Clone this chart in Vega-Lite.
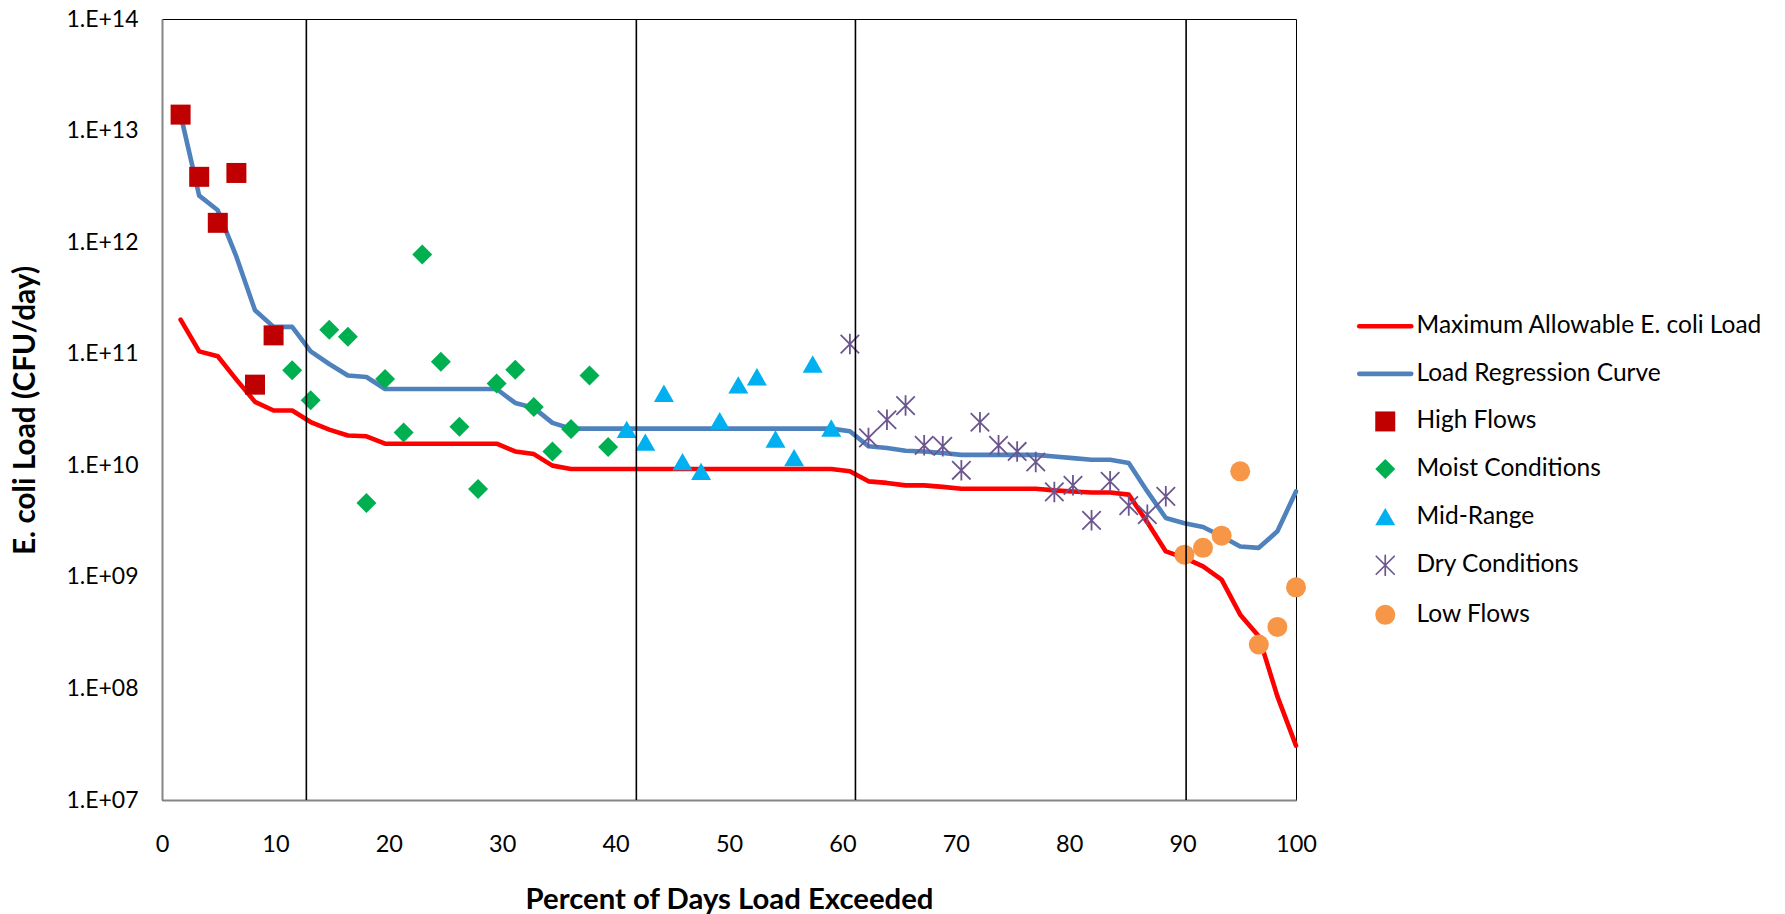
{
  "$schema": "https://vega.github.io/schema/vega-lite/v6.json",
  "width": 1134,
  "height": 781,
  "autosize": {"type": "none"},
  "padding": {"left": 162, "top": 19, "right": 489, "bottom": 114},
  "background": "white",
  "datasets": {
    "curves": [
      {"pct": 1.64, "load": 2.02e11, "series": "Maximum Allowable E. coli Load"},
      {"pct": 3.28, "load": 1.05e11, "series": "Maximum Allowable E. coli Load"},
      {"pct": 4.92, "load": 9.48e10, "series": "Maximum Allowable E. coli Load"},
      {"pct": 6.56, "load": 5.86e10, "series": "Maximum Allowable E. coli Load"},
      {"pct": 8.20, "load": 3.70e10, "series": "Maximum Allowable E. coli Load"},
      {"pct": 9.84, "load": 3.10e10, "series": "Maximum Allowable E. coli Load"},
      {"pct": 11.48, "load": 3.10e10, "series": "Maximum Allowable E. coli Load"},
      {"pct": 13.11, "load": 2.44e10, "series": "Maximum Allowable E. coli Load"},
      {"pct": 14.75, "load": 2.09e10, "series": "Maximum Allowable E. coli Load"},
      {"pct": 16.39, "load": 1.85e10, "series": "Maximum Allowable E. coli Load"},
      {"pct": 18.03, "load": 1.82e10, "series": "Maximum Allowable E. coli Load"},
      {"pct": 19.67, "load": 1.56e10, "series": "Maximum Allowable E. coli Load"},
      {"pct": 21.31, "load": 1.56e10, "series": "Maximum Allowable E. coli Load"},
      {"pct": 22.95, "load": 1.56e10, "series": "Maximum Allowable E. coli Load"},
      {"pct": 24.59, "load": 1.56e10, "series": "Maximum Allowable E. coli Load"},
      {"pct": 26.23, "load": 1.56e10, "series": "Maximum Allowable E. coli Load"},
      {"pct": 27.87, "load": 1.56e10, "series": "Maximum Allowable E. coli Load"},
      {"pct": 29.51, "load": 1.56e10, "series": "Maximum Allowable E. coli Load"},
      {"pct": 31.15, "load": 1.33e10, "series": "Maximum Allowable E. coli Load"},
      {"pct": 32.79, "load": 1.26e10, "series": "Maximum Allowable E. coli Load"},
      {"pct": 34.43, "load": 9.93e9, "series": "Maximum Allowable E. coli Load"},
      {"pct": 36.07, "load": 9.27e9, "series": "Maximum Allowable E. coli Load"},
      {"pct": 37.70, "load": 9.27e9, "series": "Maximum Allowable E. coli Load"},
      {"pct": 39.34, "load": 9.27e9, "series": "Maximum Allowable E. coli Load"},
      {"pct": 40.98, "load": 9.27e9, "series": "Maximum Allowable E. coli Load"},
      {"pct": 42.62, "load": 9.27e9, "series": "Maximum Allowable E. coli Load"},
      {"pct": 44.26, "load": 9.27e9, "series": "Maximum Allowable E. coli Load"},
      {"pct": 45.90, "load": 9.27e9, "series": "Maximum Allowable E. coli Load"},
      {"pct": 47.54, "load": 9.27e9, "series": "Maximum Allowable E. coli Load"},
      {"pct": 49.18, "load": 9.27e9, "series": "Maximum Allowable E. coli Load"},
      {"pct": 50.82, "load": 9.27e9, "series": "Maximum Allowable E. coli Load"},
      {"pct": 52.46, "load": 9.27e9, "series": "Maximum Allowable E. coli Load"},
      {"pct": 54.10, "load": 9.27e9, "series": "Maximum Allowable E. coli Load"},
      {"pct": 55.74, "load": 9.27e9, "series": "Maximum Allowable E. coli Load"},
      {"pct": 57.38, "load": 9.27e9, "series": "Maximum Allowable E. coli Load"},
      {"pct": 59.02, "load": 9.27e9, "series": "Maximum Allowable E. coli Load"},
      {"pct": 60.66, "load": 8.83e9, "series": "Maximum Allowable E. coli Load"},
      {"pct": 62.30, "load": 7.18e9, "series": "Maximum Allowable E. coli Load"},
      {"pct": 63.93, "load": 6.95e9, "series": "Maximum Allowable E. coli Load"},
      {"pct": 65.57, "load": 6.61e9, "series": "Maximum Allowable E. coli Load"},
      {"pct": 67.21, "load": 6.61e9, "series": "Maximum Allowable E. coli Load"},
      {"pct": 68.85, "load": 6.40e9, "series": "Maximum Allowable E. coli Load"},
      {"pct": 70.49, "load": 6.17e9, "series": "Maximum Allowable E. coli Load"},
      {"pct": 72.13, "load": 6.17e9, "series": "Maximum Allowable E. coli Load"},
      {"pct": 73.77, "load": 6.17e9, "series": "Maximum Allowable E. coli Load"},
      {"pct": 75.41, "load": 6.17e9, "series": "Maximum Allowable E. coli Load"},
      {"pct": 77.05, "load": 6.17e9, "series": "Maximum Allowable E. coli Load"},
      {"pct": 78.69, "load": 5.96e9, "series": "Maximum Allowable E. coli Load"},
      {"pct": 80.33, "load": 5.83e9, "series": "Maximum Allowable E. coli Load"},
      {"pct": 81.97, "load": 5.71e9, "series": "Maximum Allowable E. coli Load"},
      {"pct": 83.61, "load": 5.71e9, "series": "Maximum Allowable E. coli Load"},
      {"pct": 85.25, "load": 5.46e9, "series": "Maximum Allowable E. coli Load"},
      {"pct": 86.89, "load": 3.08e9, "series": "Maximum Allowable E. coli Load"},
      {"pct": 88.52, "load": 1.69e9, "series": "Maximum Allowable E. coli Load"},
      {"pct": 90.16, "load": 1.48e9, "series": "Maximum Allowable E. coli Load"},
      {"pct": 91.80, "load": 1.24e9, "series": "Maximum Allowable E. coli Load"},
      {"pct": 93.44, "load": 9.44e8, "series": "Maximum Allowable E. coli Load"},
      {"pct": 95.08, "load": 4.58e8, "series": "Maximum Allowable E. coli Load"},
      {"pct": 96.72, "load": 2.93e8, "series": "Maximum Allowable E. coli Load"},
      {"pct": 98.36, "load": 8.49e7, "series": "Maximum Allowable E. coli Load"},
      {"pct": 100.0, "load": 3.07e7, "series": "Maximum Allowable E. coli Load"},
      {"pct": 1.64, "load": 1.39e13, "series": "Load Regression Curve"},
      {"pct": 3.28, "load": 2.61e12, "series": "Load Regression Curve"},
      {"pct": 4.92, "load": 1.93e12, "series": "Load Regression Curve"},
      {"pct": 6.56, "load": 7.41e11, "series": "Load Regression Curve"},
      {"pct": 8.20, "load": 2.45e11, "series": "Load Regression Curve"},
      {"pct": 9.84, "load": 1.74e11, "series": "Load Regression Curve"},
      {"pct": 11.48, "load": 1.74e11, "series": "Load Regression Curve"},
      {"pct": 13.11, "load": 1.05e11, "series": "Load Regression Curve"},
      {"pct": 14.75, "load": 8.09e10, "series": "Load Regression Curve"},
      {"pct": 16.39, "load": 6.37e10, "series": "Load Regression Curve"},
      {"pct": 18.03, "load": 6.19e10, "series": "Load Regression Curve"},
      {"pct": 19.67, "load": 4.83e10, "series": "Load Regression Curve"},
      {"pct": 21.31, "load": 4.83e10, "series": "Load Regression Curve"},
      {"pct": 22.95, "load": 4.83e10, "series": "Load Regression Curve"},
      {"pct": 24.59, "load": 4.83e10, "series": "Load Regression Curve"},
      {"pct": 26.23, "load": 4.83e10, "series": "Load Regression Curve"},
      {"pct": 27.87, "load": 4.83e10, "series": "Load Regression Curve"},
      {"pct": 29.51, "load": 4.83e10, "series": "Load Regression Curve"},
      {"pct": 31.15, "load": 3.62e10, "series": "Load Regression Curve"},
      {"pct": 32.79, "load": 3.27e10, "series": "Load Regression Curve"},
      {"pct": 34.43, "load": 2.40e10, "series": "Load Regression Curve"},
      {"pct": 36.07, "load": 2.13e10, "series": "Load Regression Curve"},
      {"pct": 37.70, "load": 2.13e10, "series": "Load Regression Curve"},
      {"pct": 39.34, "load": 2.13e10, "series": "Load Regression Curve"},
      {"pct": 40.98, "load": 2.13e10, "series": "Load Regression Curve"},
      {"pct": 42.62, "load": 2.13e10, "series": "Load Regression Curve"},
      {"pct": 44.26, "load": 2.13e10, "series": "Load Regression Curve"},
      {"pct": 45.90, "load": 2.13e10, "series": "Load Regression Curve"},
      {"pct": 47.54, "load": 2.13e10, "series": "Load Regression Curve"},
      {"pct": 49.18, "load": 2.13e10, "series": "Load Regression Curve"},
      {"pct": 50.82, "load": 2.13e10, "series": "Load Regression Curve"},
      {"pct": 52.46, "load": 2.13e10, "series": "Load Regression Curve"},
      {"pct": 54.10, "load": 2.13e10, "series": "Load Regression Curve"},
      {"pct": 55.74, "load": 2.13e10, "series": "Load Regression Curve"},
      {"pct": 57.38, "load": 2.13e10, "series": "Load Regression Curve"},
      {"pct": 59.02, "load": 2.13e10, "series": "Load Regression Curve"},
      {"pct": 60.66, "load": 2.02e10, "series": "Load Regression Curve"},
      {"pct": 62.30, "load": 1.48e10, "series": "Load Regression Curve"},
      {"pct": 63.93, "load": 1.43e10, "series": "Load Regression Curve"},
      {"pct": 65.57, "load": 1.35e10, "series": "Load Regression Curve"},
      {"pct": 67.21, "load": 1.33e10, "series": "Load Regression Curve"},
      {"pct": 68.85, "load": 1.29e10, "series": "Load Regression Curve"},
      {"pct": 70.49, "load": 1.24e10, "series": "Load Regression Curve"},
      {"pct": 72.13, "load": 1.24e10, "series": "Load Regression Curve"},
      {"pct": 73.77, "load": 1.24e10, "series": "Load Regression Curve"},
      {"pct": 75.41, "load": 1.24e10, "series": "Load Regression Curve"},
      {"pct": 77.05, "load": 1.24e10, "series": "Load Regression Curve"},
      {"pct": 78.69, "load": 1.20e10, "series": "Load Regression Curve"},
      {"pct": 80.33, "load": 1.16e10, "series": "Load Regression Curve"},
      {"pct": 81.97, "load": 1.12e10, "series": "Load Regression Curve"},
      {"pct": 83.61, "load": 1.12e10, "series": "Load Regression Curve"},
      {"pct": 85.25, "load": 1.05e10, "series": "Load Regression Curve"},
      {"pct": 86.89, "load": 5.83e9, "series": "Load Regression Curve"},
      {"pct": 88.52, "load": 3.37e9, "series": "Load Regression Curve"},
      {"pct": 90.16, "load": 3.02e9, "series": "Load Regression Curve"},
      {"pct": 91.80, "load": 2.80e9, "series": "Load Regression Curve"},
      {"pct": 93.44, "load": 2.31e9, "series": "Load Regression Curve"},
      {"pct": 95.08, "load": 1.87e9, "series": "Load Regression Curve"},
      {"pct": 96.72, "load": 1.82e9, "series": "Load Regression Curve"},
      {"pct": 98.36, "load": 2.56e9, "series": "Load Regression Curve"},
      {"pct": 100.0, "load": 5.83e9, "series": "Load Regression Curve"}
    ],
    "samples": [
      {"pct": 1.64, "load": 1.39e13, "series": "High Flows"},
      {"pct": 3.28, "load": 3.85e12, "series": "High Flows"},
      {"pct": 4.92, "load": 1.49e12, "series": "High Flows"},
      {"pct": 6.56, "load": 4.17e12, "series": "High Flows"},
      {"pct": 8.20, "load": 5.28e10, "series": "High Flows"},
      {"pct": 9.84, "load": 1.46e11, "series": "High Flows"},
      {"pct": 11.48, "load": 7.10e10, "series": "Moist Conditions"},
      {"pct": 13.11, "load": 3.82e10, "series": "Moist Conditions"},
      {"pct": 14.75, "load": 1.64e11, "series": "Moist Conditions"},
      {"pct": 16.39, "load": 1.42e11, "series": "Moist Conditions"},
      {"pct": 18.03, "load": 4.59e9, "series": "Moist Conditions"},
      {"pct": 19.67, "load": 5.94e10, "series": "Moist Conditions"},
      {"pct": 21.31, "load": 1.97e10, "series": "Moist Conditions"},
      {"pct": 22.95, "load": 7.73e11, "series": "Moist Conditions"},
      {"pct": 24.59, "load": 8.49e10, "series": "Moist Conditions"},
      {"pct": 26.23, "load": 2.21e10, "series": "Moist Conditions"},
      {"pct": 27.87, "load": 6.14e9, "series": "Moist Conditions"},
      {"pct": 29.51, "load": 5.40e10, "series": "Moist Conditions"},
      {"pct": 31.15, "load": 7.19e10, "series": "Moist Conditions"},
      {"pct": 32.79, "load": 3.33e10, "series": "Moist Conditions"},
      {"pct": 34.43, "load": 1.33e10, "series": "Moist Conditions"},
      {"pct": 36.07, "load": 2.12e10, "series": "Moist Conditions"},
      {"pct": 37.70, "load": 6.37e10, "series": "Moist Conditions"},
      {"pct": 39.34, "load": 1.46e10, "series": "Moist Conditions"},
      {"pct": 40.98, "load": 2.10e10, "series": "Mid-Range"},
      {"pct": 42.62, "load": 1.61e10, "series": "Mid-Range"},
      {"pct": 44.26, "load": 4.42e10, "series": "Mid-Range"},
      {"pct": 45.90, "load": 1.08e10, "series": "Mid-Range"},
      {"pct": 47.54, "load": 8.83e9, "series": "Mid-Range"},
      {"pct": 49.18, "load": 2.51e10, "series": "Mid-Range"},
      {"pct": 50.82, "load": 5.25e10, "series": "Mid-Range"},
      {"pct": 52.46, "load": 6.22e10, "series": "Mid-Range"},
      {"pct": 54.10, "load": 1.72e10, "series": "Mid-Range"},
      {"pct": 55.74, "load": 1.17e10, "series": "Mid-Range"},
      {"pct": 57.38, "load": 8.09e10, "series": "Mid-Range"},
      {"pct": 59.02, "load": 2.16e10, "series": "Mid-Range"},
      {"pct": 60.66, "load": 1.22e11, "series": "Dry Conditions"},
      {"pct": 62.30, "load": 1.76e10, "series": "Dry Conditions"},
      {"pct": 63.93, "load": 2.56e10, "series": "Dry Conditions"},
      {"pct": 65.57, "load": 3.43e10, "series": "Dry Conditions"},
      {"pct": 67.21, "load": 1.51e10, "series": "Dry Conditions"},
      {"pct": 68.85, "load": 1.48e10, "series": "Dry Conditions"},
      {"pct": 70.49, "load": 9.02e9, "series": "Dry Conditions"},
      {"pct": 72.13, "load": 2.43e10, "series": "Dry Conditions"},
      {"pct": 73.77, "load": 1.51e10, "series": "Dry Conditions"},
      {"pct": 75.41, "load": 1.33e10, "series": "Dry Conditions"},
      {"pct": 77.05, "load": 1.07e10, "series": "Dry Conditions"},
      {"pct": 78.69, "load": 5.77e9, "series": "Dry Conditions"},
      {"pct": 80.33, "load": 6.61e9, "series": "Dry Conditions"},
      {"pct": 81.97, "load": 3.21e9, "series": "Dry Conditions"},
      {"pct": 83.61, "load": 7.18e9, "series": "Dry Conditions"},
      {"pct": 85.25, "load": 4.35e9, "series": "Dry Conditions"},
      {"pct": 86.89, "load": 3.61e9, "series": "Dry Conditions"},
      {"pct": 88.52, "load": 5.27e9, "series": "Dry Conditions"},
      {"pct": 90.16, "load": 1.58e9, "series": "Low Flows"},
      {"pct": 91.80, "load": 1.82e9, "series": "Low Flows"},
      {"pct": 93.44, "load": 2.34e9, "series": "Low Flows"},
      {"pct": 95.08, "load": 8.83e9, "series": "Low Flows"},
      {"pct": 96.72, "load": 2.47e8, "series": "Low Flows"},
      {"pct": 98.36, "load": 3.56e8, "series": "Low Flows"},
      {"pct": 100.0, "load": 8.05e8, "series": "Low Flows"}
    ],
    "zones": [
      {"pct": 12.73},
      {"pct": 41.83},
      {"pct": 61.15},
      {"pct": 90.31}
    ]
  },
  "layer": [
    {
      "data": {"name": "curves"},
      "mark": {"type": "line", "strokeWidth": 4.6, "strokeJoin": "round", "strokeCap": "round", "opacity": 1},
      "encoding": {
        "x": {
          "field": "pct",
          "type": "quantitative",
          "scale": {"domain": [0, 100], "nice": false},
          "axis": {
            "title": "Percent of Days Load Exceeded",
            "values": [0, 10, 20, 30, 40, 50, 60, 70, 80, 90, 100],
            "grid": false,
            "ticks": false,
            "tickSize": 0,
            "labelPadding": 32,
            "labelFontSize": 23.5,
            "labelColor": "black",
            "labelFlush": false,
            "domainColor": "#868686",
            "domainWidth": 2,
            "titleFontSize": 29.3,
            "titleFontWeight": "bold",
            "titleColor": "black",
            "titleX": 567,
            "titleY": 99,
            "titleBaseline": "middle",
            "titleAlign": "center"
          }
        },
        "y": {
          "field": "load",
          "type": "quantitative",
          "scale": {"type": "log", "domain": [1e7, 1e14], "nice": false},
          "axis": {
            "title": "E. coli Load (CFU/day)",
            "values": [1e7, 1e8, 1e9, 1e10, 1e11, 1e12, 1e13, 1e14],
            "labelExpr": "'1.E+' + (datum.value < 1e10 ? '0' : '') + round(log(datum.value) / LN10)",
            "grid": false,
            "ticks": false,
            "tickSize": 0,
            "labelPadding": 24,
            "labelFontSize": 23,
            "labelColor": "black",
            "labelFlush": false,
            "domainColor": "#868686",
            "domainWidth": 2,
            "titleFontSize": 29.8,
            "titleFontWeight": "bold",
            "titleColor": "black",
            "titleX": -137,
            "titleY": 391,
            "titleAngle": -90,
            "titleBaseline": "middle",
            "titleAlign": "center"
          }
        },
        "color": {
          "field": "series",
          "type": "nominal",
          "sort": null,
          "scale": {
            "domain": ["Maximum Allowable E. coli Load", "Load Regression Curve", "High Flows", "Moist Conditions", "Mid-Range", "Dry Conditions", "Low Flows"],
            "range": ["#FF0000", "#4F81BD", "#C00000", "#00B050", "#00B0F0", "#6B568F", "#F79646"]
          },
          "legend": {
            "title": null,
            "orient": "none",
            "legendX": 1211,
            "legendY": 295,
            "padding": 0,
            "labelFontSize": 24.5,
            "labelColor": "black",
            "labelOffset": 19,
            "labelLimit": 500,
            "symbolSize": 400,
            "rowPadding": 22.6,
            "symbolOpacity": 1,
            "encode": {
              "symbols": {
                "update": {
                  "fill": {"signal": "indexof(['Maximum Allowable E. coli Load', 'Load Regression Curve', 'Dry Conditions'], datum.value) >= 0 ? 'transparent' : scale('color', datum.value)"},
                  "stroke": {"signal": "scale('color', datum.value)"},
                  "strokeWidth": {"signal": "datum.value === 'Dry Conditions' ? 1.7 : (indexof(['Maximum Allowable E. coli Load', 'Load Regression Curve'], datum.value) >= 0 ? 4.6 : 0)"},
                  "strokeCap": {"value": "round"},
                  "opacity": {"value": 1}
                }
              }
            }
          }
        },
        "detail": {"field": "series"}
      }
    },
    {
      "data": {"name": "samples"},
      "transform": [{"filter": "datum.series !== 'Dry Conditions'"}],
      "mark": {"type": "point", "filled": true, "opacity": 1, "size": 400},
      "encoding": {
        "x": {"field": "pct", "type": "quantitative"},
        "y": {"field": "load", "type": "quantitative"},
        "color": {"field": "series", "type": "nominal", "sort": null},
        "shape": {
          "field": "series",
          "type": "nominal",
          "sort": null,
          "scale": {
            "domain": ["Maximum Allowable E. coli Load", "Load Regression Curve", "High Flows", "Moist Conditions", "Mid-Range", "Dry Conditions", "Low Flows"],
            "range": ["M-2.6,0L2.6,0", "M-2.6,0L2.6,0", "square", "diamond", "triangle-up", "M-0.9,-0.9L0.9,0.9M-0.9,0.9L0.9,-0.9M0,-1L0,1", "circle"]
          },
          "legend": {"title": null}
        }
      }
    },
    {
      "data": {"name": "samples"},
      "transform": [{"filter": "datum.series === 'Dry Conditions'"}],
      "mark": {"type": "point", "filled": false, "opacity": 1, "size": 420, "strokeWidth": 1.8},
      "encoding": {
        "x": {"field": "pct", "type": "quantitative"},
        "y": {"field": "load", "type": "quantitative"},
        "color": {"field": "series", "type": "nominal", "sort": null},
        "shape": {"field": "series", "type": "nominal", "sort": null}
      }
    },
    {
      "data": {"name": "zones"},
      "mark": {"type": "rule", "color": "black", "strokeWidth": 1.6},
      "encoding": {
        "x": {"field": "pct", "type": "quantitative"}
      }
    }
  ],
  "config": {
    "font": "Lato",
    "view": {"stroke": "black", "strokeWidth": 1}
  }
}
